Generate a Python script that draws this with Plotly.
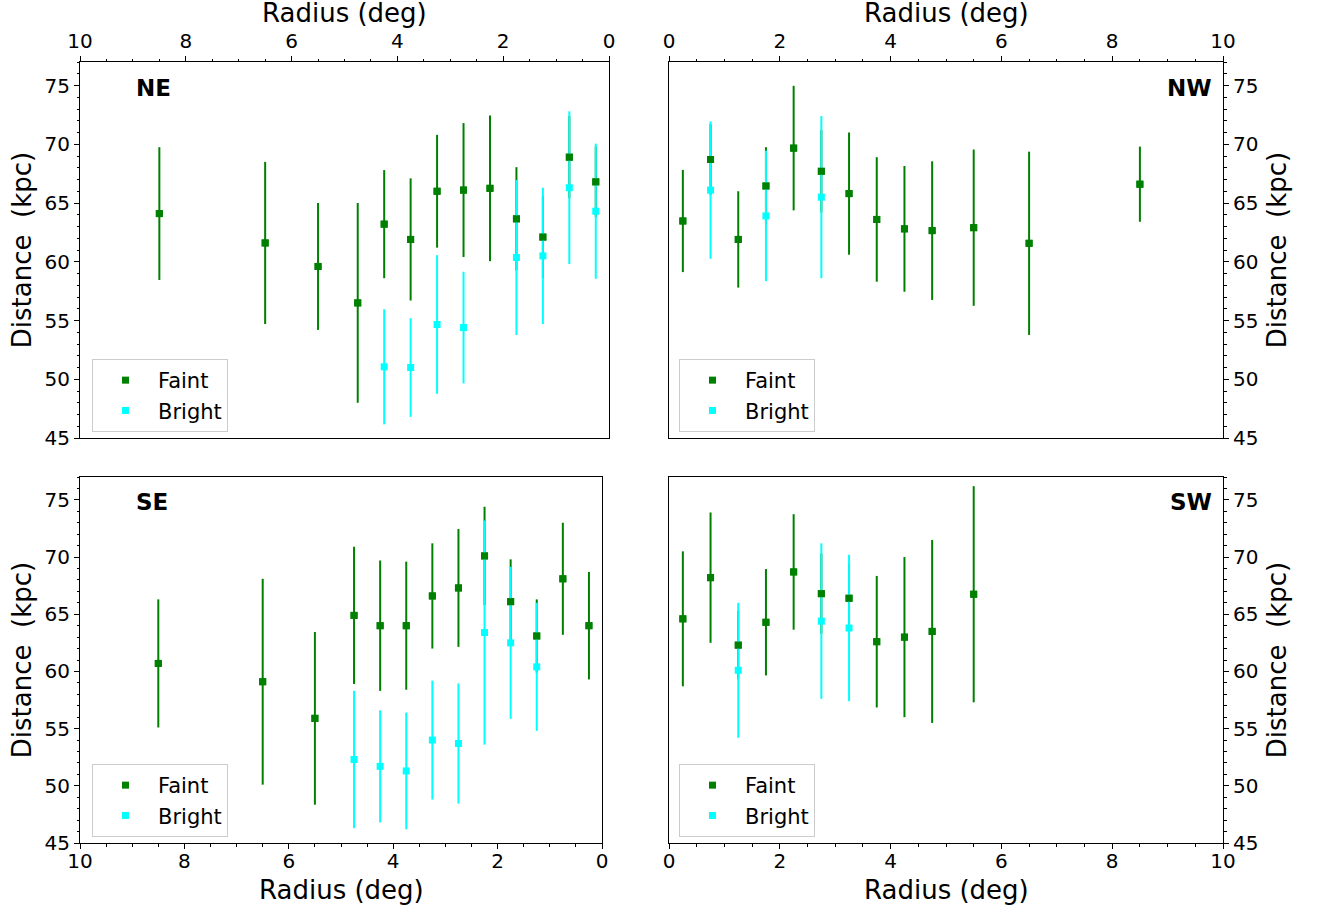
import plotly.graph_objects as go

# ---------------- data ----------------
ne_x = [8.5, 6.5, 5.5, 4.75, 4.25, 3.75, 3.25, 2.75, 2.25, 1.75, 1.25, 0.75, 0.25]
ne_faint = [64.1, 61.6, 59.6, 56.5, 63.2, 61.9, 66.0, 66.1, 66.25, 63.65, 62.1, 68.9, 66.8]
ne_faint_err = [5.65, 6.9, 5.4, 8.5, 4.6, 5.2, 4.8, 5.7, 6.2, 4.4, 3.5, 3.5, 3.0]
ne_bx = [4.25, 3.75, 3.25, 2.75, 1.75, 1.25, 0.75, 0.25]
ne_bright = [51.06, 51.0, 54.66, 54.4, 60.36, 60.5, 66.3, 64.3]
ne_bright_err = [4.9, 4.2, 5.9, 4.75, 6.6, 5.8, 6.5, 5.75]

nw_x = [0.25, 0.75, 1.25, 1.75, 2.25, 2.75, 3.25, 3.75, 4.25, 4.75, 5.5, 6.5, 8.5]
nw_faint = [63.47, 68.7, 61.9, 66.45, 69.67, 67.7, 65.8, 63.6, 62.8, 62.65, 62.9, 61.57, 66.6]
nw_faint_err = [4.35, 3.0, 4.1, 3.3, 5.3, 3.5, 5.2, 5.3, 5.35, 5.9, 6.65, 7.8, 3.2]
nw_bx = [0.75, 1.75, 2.75]
nw_bright = [66.1, 63.9, 65.5]
nw_bright_err = [5.85, 5.55, 6.9]

se_x = [8.5, 6.5, 5.5, 4.75, 4.25, 3.75, 3.25, 2.75, 2.25, 1.75, 1.25, 0.75, 0.25]
se_faint = [60.7, 59.1, 55.9, 64.9, 64.0, 64.0, 66.6, 67.3, 70.1, 66.1, 63.1, 68.1, 64.0]
se_faint_err = [5.6, 9.0, 7.55, 6.0, 5.7, 5.6, 4.6, 5.15, 4.3, 3.7, 3.2, 4.9, 4.7]
se_bx = [4.75, 4.25, 3.75, 3.25, 2.75, 2.25, 1.75, 1.25]
se_bright = [52.3, 51.7, 51.3, 54.0, 53.7, 63.4, 62.5, 60.4]
se_bright_err = [6.0, 4.9, 5.1, 5.2, 5.25, 9.8, 6.65, 5.6]

sw_x = [0.25, 0.75, 1.25, 1.75, 2.25, 2.75, 3.25, 3.75, 4.25, 4.75, 5.5]
sw_faint = [64.6, 68.2, 62.3, 64.3, 68.7, 66.8, 66.4, 62.6, 63.0, 63.5, 66.75]
sw_faint_err = [5.9, 5.7, 3.0, 4.65, 5.05, 3.5, 3.0, 5.75, 7.0, 8.0, 9.45]
sw_bx = [1.25, 2.75, 3.25]
sw_bright = [60.1, 64.4, 63.8]
sw_bright_err = [5.9, 6.8, 6.4]

panel_names = ["NE", "NW", "SE", "SW"]
series_names = ["Faint", "Bright"]
x_ticks = [0, 2, 4, 6, 8, 10]
y_ticks = [45, 50, 55, 60, 65, 70, 75]
x_title = "Radius (deg)"
y_title = "Distance\u00a0 (kpc)"

# ---------------- style ----------------
W, H = 1317, 911
GREEN = "#008000"
CYAN = "#00FFFF"
FONT = "DejaVu Sans"


def fx_(px):
    return px / W


def fy_(py):
    return 1 - py / H


panels = [
    dict(name=panel_names[0], fx=ne_x, fy=ne_faint, fe=ne_faint_err, bx=ne_bx, by=ne_bright, be=ne_bright_err,
         px=(80, 609), py=(62, 438), rev=True, xside="top", yside="left"),
    dict(name=panel_names[1], fx=nw_x, fy=nw_faint, fe=nw_faint_err, bx=nw_bx, by=nw_bright, be=nw_bright_err,
         px=(669, 1223), py=(62, 438), rev=False, xside="top", yside="right"),
    dict(name=panel_names[2], fx=se_x, fy=se_faint, fe=se_faint_err, bx=se_bx, by=se_bright, be=se_bright_err,
         px=(80, 602), py=(477, 843), rev=True, xside="bottom", yside="left"),
    dict(name=panel_names[3], fx=sw_x, fy=sw_faint, fe=sw_faint_err, bx=sw_bx, by=sw_bright, be=sw_bright_err,
         px=(669, 1223), py=(477, 843), rev=False, xside="bottom", yside="right"),
]

fig = go.Figure()
layout = dict(
    width=W, height=H, margin=dict(l=0, r=0, t=0, b=0, autoexpand=False),
    paper_bgcolor="white", plot_bgcolor="white",
    font=dict(family=FONT, color="black", size=20),
    annotations=[],
)

for i, p in enumerate(panels):
    k = "" if i == 0 else str(i + 1)
    xa, ya = "x" + k, "y" + k
    leg = "legend" + k

    fe = dict(type="data", array=p["fe"], symmetric=True, color=GREEN, thickness=2, width=0)
    be = dict(type="data", array=p["be"], symmetric=True, color=CYAN, thickness=2, width=0)
    fig.add_trace(go.Scatter(x=p["fx"], y=p["fy"], mode="markers", name=series_names[0],
                             marker=dict(symbol="square", size=7, color=GREEN, line=dict(width=0)),
                             error_y=fe, xaxis=xa, yaxis=ya, legend=leg, legendrank=1))
    fig.add_trace(go.Scatter(x=p["bx"], y=p["by"], mode="markers", name=series_names[1],
                             marker=dict(symbol="square", size=7, color=CYAN, line=dict(width=0)),
                             error_y=be, xaxis=xa, yaxis=ya, legend=leg, legendrank=2))
    # faint markers redrawn on top of the bright error bars
    fig.add_trace(go.Scatter(x=p["fx"], y=p["fy"], mode="markers", showlegend=False,
                             marker=dict(symbol="square", size=7, color=GREEN, line=dict(width=0)),
                             xaxis=xa, yaxis=ya, hoverinfo="skip"))

    top = p["py"][0] == 62
    left = p["yside"] == "left"
    xdom = [fx_(p["px"][0]), fx_(p["px"][1])]
    ydom = [fy_(p["py"][1]), fy_(p["py"][0])]
    axcommon = dict(showline=True, linecolor="black", linewidth=1, mirror=True, automargin=False,
                    showgrid=False, zeroline=False, ticks="outside", ticklen=5, tickwidth=1,
                    tickcolor="black", tickfont=dict(size=20, family=FONT, color="black"))
    layout["xaxis" + k] = dict(
        axcommon, domain=xdom, anchor=ya, side=p["xside"],
        range=[10, 0] if p["rev"] else [0, 10], tickmode="array", tickvals=x_ticks,
        ticklabelstandoff=0 if top else -5,
        minor=dict(ticks="outside", ticklen=2.5, tickwidth=1, tickcolor="black", dtick=0.5, tick0=0, showgrid=False),
    )
    # x-axis title placed as a paper annotation (top: above tick labels, bottom: below)
    layout["annotations"].append(dict(
        text=x_title, xref="paper", yref="paper", x=(xdom[0] + xdom[1]) / 2, xanchor="center",
        y=fy_(13 if top else 890), yanchor="middle", showarrow=False,
        font=dict(size=26, family=FONT, color="black")))
    layout["yaxis" + k] = dict(
        axcommon, domain=ydom, anchor=xa, side=p["yside"], range=[45, 77],
        tickmode="array", tickvals=y_ticks,
        minor=dict(ticks="outside", ticklen=2.5, tickwidth=1, tickcolor="black", dtick=1, tick0=45, showgrid=False),
        title=dict(text=y_title, font=dict(size=26, family=FONT, color="black"), standoff=5 if left else 10),
    )
    # panel label
    label_y = 1 - ((88 - 62) if top else (502 - 477)) / (p["py"][1] - p["py"][0])
    if left:
        lx_frac, anchor = (134 - p["px"][0]) / (p["px"][1] - p["px"][0]), "left"
    else:
        lx_frac, anchor = (1214 - p["px"][0]) / (p["px"][1] - p["px"][0]), "right"
    layout["annotations"].append(dict(
        text="<b>%s</b>" % p["name"], xref=xa + " domain", yref=ya + " domain",
        x=lx_frac, xanchor=anchor, y=label_y, yanchor="middle", showarrow=False,
        font=dict(size=23, family=FONT, color="black")))
    # legend
    lx = 92 if left else 679
    ly = 359 if top else 764
    layout[leg] = dict(
        x=fx_(lx), y=fy_(ly), xanchor="left", yanchor="top", xref="paper", yref="paper",
        bgcolor="rgba(255,255,255,0.8)", bordercolor="#cccccc", borderwidth=1,
        font=dict(size=21, family=FONT, color="black"), itemwidth=55, tracegroupgap=0,
        traceorder="normal",
    )

fig.update_layout(**layout)
fig.write_html("out.html", config={"displayModeBar": False},
               post_script="document.body.style.margin='0';")
